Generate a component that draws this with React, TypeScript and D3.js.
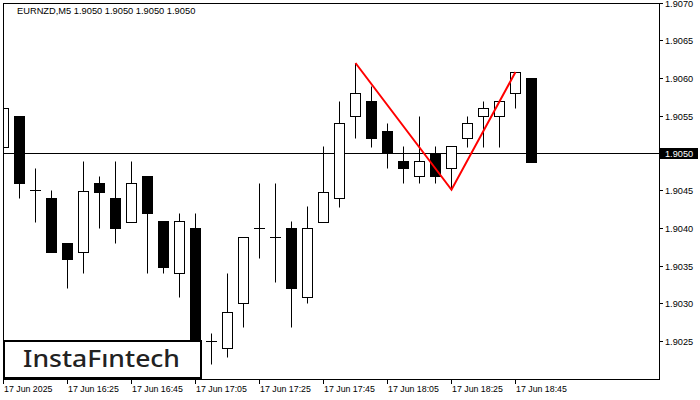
import React from 'react';
import * as d3 from 'd3';

// EURNZD M5 candles, 16:05 .. 18:50
const opens = [1.90508, 1.90549, 1.9045, 1.9044, 1.9038, 1.90368, 1.9046, 1.9044, 1.90408, 1.90469, 1.90409, 1.9034, 1.904, 1.90249, 1.9024, 1.903, 1.904, 1.90388, 1.904, 1.90308, 1.90408, 1.9044, 1.90549, 1.90569, 1.90529, 1.90489, 1.90469, 1.905, 1.9048, 1.9052, 1.90549, 1.90549, 1.9058, 1.906];
const highs = [1.9056, 1.90549, 1.9048, 1.9045, 1.9038, 1.90489, 1.90469, 1.90489, 1.90489, 1.90469, 1.90409, 1.9042, 1.9042, 1.9026, 1.9034, 1.90388, 1.9046, 1.9046, 1.90409, 1.90429, 1.90509, 1.90569, 1.9062, 1.90589, 1.9054, 1.90509, 1.90549, 1.90509, 1.90509, 1.90549, 1.90569, 1.90569, 1.90608, 1.906];
const lows = [1.90488, 1.9044, 1.90408, 1.90368, 1.9032, 1.9034, 1.904, 1.9038, 1.90408, 1.9034, 1.9034, 1.90308, 1.90225, 1.90219, 1.90228, 1.90268, 1.9036, 1.90328, 1.90268, 1.903, 1.90408, 1.90428, 1.9052, 1.90508, 1.9048, 1.9046, 1.9046, 1.9046, 1.90451, 1.90508, 1.90508, 1.90508, 1.9056, 1.90488];
const closes = [1.9056, 1.9046, 1.9045, 1.90368, 1.90359, 1.90449, 1.90448, 1.904, 1.9046, 1.9042, 1.90348, 1.90409, 1.90235, 1.90249, 1.90288, 1.90388, 1.904, 1.90388, 1.9032, 1.904, 1.90448, 1.9054, 1.9058, 1.9052, 1.905, 1.9048, 1.90489, 1.90469, 1.90509, 1.9054, 1.9056, 1.90569, 1.90608, 1.90488];

const priceTicks = [1.9025, 1.903, 1.9035, 1.904, 1.9045, 1.905, 1.9055, 1.906, 1.9065, 1.907];
const timeTickIdx = [0, 4, 8, 12, 16, 20, 24, 28, 32];
const timeTickLabels = ['17 Jun 2025', '17 Jun 16:25', '17 Jun 16:45', '17 Jun 17:05', '17 Jun 17:25', '17 Jun 17:45', '17 Jun 18:05', '17 Jun 18:25', '17 Jun 18:45'];

// double top pattern: [bar index, price]
const patternIdx = [22, 28, 32];
const patternPrice = [1.9062, 1.90451, 1.90608];

const currentPrice = 1.905;
const title = 'EURNZD,M5  1.9050 1.9050 1.9050 1.9050';

const W = 700;
const H = 400;
const plot = { left: 3, top: 3, right: 659, bottom: 379 };
const font = '"Liberation Sans", Arial, sans-serif';

export default function App() {
  const x = d3.scaleLinear().domain([0, 33]).range([3.5, 531.5]);
  const y = d3.scaleLinear().domain([1.9025, 1.907]).range([340.5, 3]);
  const py = (p: number) => Math.round(y(p)) + 0.5;

  const line = d3.line<number>()
    .x((_, i) => x(patternIdx[i]))
    .y(d => y(d));

  return (
    <div style={{ position: 'absolute', left: 0, top: 0 }}>
      <svg width={W} height={H} style={{ display: 'block', background: '#fff' }}>
        <defs>
          <clipPath id="plotClip">
            <rect x={plot.left} y={plot.top} width={plot.right - plot.left} height={plot.bottom - plot.top} />
          </clipPath>
        </defs>

        <g clipPath="url(#plotClip)">
          {/* current price line */}
          <line x1={plot.left} x2={plot.right} y1={py(currentPrice)} y2={py(currentPrice)} stroke="#000" strokeWidth={1} />

          {opens.map((o, i) => {
            const c = closes[i];
            const cx = x(i);
            const yo = py(o);
            const yc = py(c);
            const top = Math.min(yo, yc);
            const bot = Math.max(yo, yc);
            const bull = c > o;
            return (
              <g key={i}>
                <line x1={cx} x2={cx} y1={py(highs[i])} y2={py(lows[i])} stroke="#000" strokeWidth={1} />
                {top === bot ? (
                  <line x1={cx - 5.5} x2={cx + 5.5} y1={top} y2={top} stroke="#000" strokeWidth={1} />
                ) : (
                  <rect x={cx - 5} y={top} width={10} height={bot - top}
                    fill={bull ? '#fff' : '#000'} stroke="#000" strokeWidth={1} />
                )}
              </g>
            );
          })}

          <path d={line(patternPrice) || ''} fill="none" stroke="#ff0000" strokeWidth={2} />
        </g>

        {/* frame */}
        <rect x={plot.left + 0.5} y={plot.top + 0.5} width={plot.right - plot.left} height={plot.bottom - plot.top}
          fill="none" stroke="#000" strokeWidth={1} />

        {/* price axis */}
        {priceTicks.map(t => (
          <g key={t}>
            <line x1={plot.right} x2={plot.right + 4} y1={py(t)} y2={py(t)} stroke="#000" />
            <text x={665} y={py(t)} dy="0.35em" fontFamily={font} fontSize={9.2} fill="#000">{t.toFixed(4)}</text>
          </g>
        ))}
        <rect x={660} y={148} width={38} height={11} fill="#000" />
        <text x={665} y={py(currentPrice)} dy="0.35em" fontFamily={font} fontSize={9.2} fill="#fff">{currentPrice.toFixed(4)}</text>

        {/* time axis */}
        {timeTickIdx.map((idx, k) => (
          <g key={idx}>
            <line x1={x(idx)} x2={x(idx)} y1={plot.bottom + 0.5} y2={plot.bottom + 5} stroke="#000" />
            <text x={x(idx) + 0.5} y={392} fontFamily={font} fontSize={8.8} fill="#000">{timeTickLabels[k]}</text>
          </g>
        ))}

        {/* title */}
        <text x={17} y={14} fontFamily={font} fontSize={9.3} fill="#000">{title}</text>

        {/* logo */}
        <rect x={4} y={341} width={197} height={37} fill="#fff" stroke="#000" strokeWidth={2} />
        <text x={23} y={367} fontFamily='"Noto Sans", sans-serif' fontSize={23} fontWeight={500} fill="#222"
          textLength={157} lengthAdjust="spacingAndGlyphs">InstaFıntech</text>
      </svg>
    </div>
  );
}
